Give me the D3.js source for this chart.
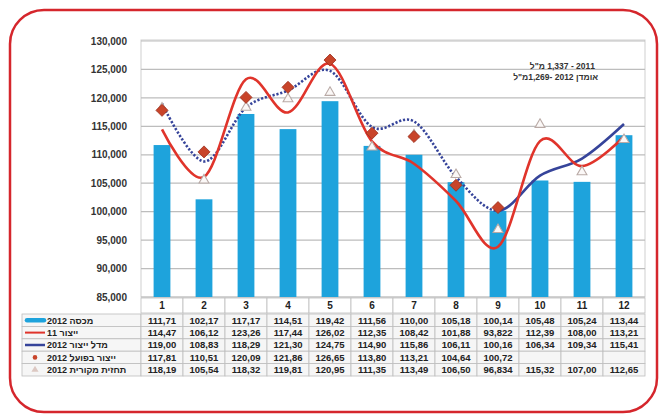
<!DOCTYPE html>
<html><head><meta charset="utf-8">
<script src="https://cdn.jsdelivr.net/npm/d3@7"></script>
<style>
html,body{margin:0;padding:0;background:#fff;}
svg{display:block;font-family:"Liberation Sans",Arial,sans-serif;}
</style></head>
<body><svg id="c" width="670" height="415"></svg>
<script>
// ---- data (values in thousands of litres) ----
const months = ["1","2","3","4","5","6","7","8","9","10","11","12"];
const yTicks = [85000,90000,95000,100000,105000,110000,115000,120000,125000,130000];
const quota2012 = [111.71,102.17,117.17,114.51,119.42,111.56,110.00,105.18,100.14,105.48,105.24,113.44];
const prod2011  = [114.47,106.12,123.26,117.44,126.02,112.35,108.42,101.88,93.822,112.39,108.00,113.21];
const model2012 = [119.00,108.83,118.29,121.30,124.75,114.90,115.86,106.11,100.16,106.34,109.34,115.41];
const actual2012 = [117.81,110.51,120.09,121.86,126.65,113.80,113.21,104.64,100.72];
const forecast2012 = [118.19,105.54,118.32,119.81,120.95,111.35,113.49,106.50,96.834,115.32,107.00,112.65];
const seriesNames = ["2012 מכסה","11 ייצור","2012 מדל ייצור","2012 ייצור בפועל","2012 תחזית מקורית"];
const noteLines = ["מ\"ל\u200E 1,337 - 2011","מ\"ל\u200E1,269- 2012 אומדן"];

const svg = d3.select("#c");
const C = {bar:"#1ea3dc", red:"#e0342b", blue:"#36449a", dia:"#c8442a", diaS:"#9e2f1d", tri:"#b9aaa6"};

// outer red rounded frame
svg.append("rect").attr("x",10).attr("y",10).attr("width",647).attr("height",402)
  .attr("rx",34).attr("fill","none").attr("stroke","#d5262c").attr("stroke-width",2.5);

const L=141, R=645, T=41, B=297;
const x = d3.scaleBand().domain(months).range([L,R]);
const y = d3.scaleLinear().domain([85000,130000]).range([B,T]);
const cx = d => x(d)+x.bandwidth()/2;

// plot frame
svg.append("rect").attr("x",L).attr("y",T-1).attr("width",R-L).attr("height",B-T+1)
  .attr("fill","#fff").attr("stroke","#cfcfcf");

// gridlines
svg.append("g").selectAll("line").data(yTicks).join("line")
  .attr("x1",L).attr("x2",R).attr("y1",d=>y(d)).attr("y2",d=>y(d))
  .attr("stroke","#bdbdbd").attr("stroke-width",1.2);

// y axis
const ya = svg.append("g").attr("transform",`translate(${L},0)`)
  .call(d3.axisLeft(y).tickValues(yTicks).tickFormat(d3.format(",")).tickSize(0).tickPadding(14));
ya.select(".domain").remove();
ya.selectAll("text").attr("font-size",10).attr("font-weight","bold").attr("fill","#333")
  .attr("font-family","'Liberation Sans',Arial,sans-serif");

// bars
const bw = x.bandwidth()*0.4;
svg.append("g").selectAll("rect").data(quota2012).join("rect")
  .attr("x",(d,i)=>cx(months[i])-bw/2).attr("width",bw)
  .attr("y",d=>y(d*1000)).attr("height",d=>B-y(d*1000)).attr("fill",C.bar);

// smooth lines
const line = d3.line().x(d=>cx(d.m)).y(d=>y(d.v*1000)).curve(d3.curveCatmullRom.alpha(0));
const pts = arr => arr.map((v,i)=>({m:months[i],v}));

const defs = svg.append("defs");
defs.append("clipPath").attr("id","cl").append("rect").attr("x",0).attr("y",0).attr("width",cx("9")).attr("height",415);
defs.append("clipPath").attr("id","cr").append("rect").attr("x",cx("9")).attr("y",0).attr("width",670).attr("height",415);

svg.append("path").attr("d",line(pts(model2012))).attr("fill","none")
  .attr("stroke",C.blue).attr("stroke-width",2.6).attr("stroke-dasharray","2.2,1.8").attr("clip-path","url(#cl)");
svg.append("path").attr("d",line(pts(model2012))).attr("fill","none")
  .attr("stroke",C.blue).attr("stroke-width",2.6).attr("clip-path","url(#cr)");

svg.append("path").attr("d",line(pts(prod2011))).attr("fill","none")
  .attr("stroke",C.red).attr("stroke-width",2.6);

// triangles
const triSym = d3.symbol().type(d3.symbolTriangle).size(42);
svg.append("g").selectAll("path").data(forecast2012).join("path")
  .attr("d",triSym).attr("transform",(d,i)=>`translate(${cx(months[i])},${y(d*1000)})`)
  .attr("fill","#fbf8f7").attr("stroke",C.tri).attr("stroke-width",1.1);

// diamonds
const diaSym = d3.symbol().type(d3.symbolSquare).size(72);
svg.append("g").selectAll("path").data(actual2012).join("path")
  .attr("d",diaSym).attr("transform",(d,i)=>`translate(${cx(months[i])},${y(d*1000)}) rotate(45)`)
  .attr("fill",C.dia).attr("stroke",C.diaS).attr("stroke-width",0.8);

// note
svg.append("g").selectAll("text").data(noteLines).join("text")
  .attr("x",(d,i)=>i?598:595).attr("y",(d,i)=>69+i*11).attr("text-anchor","end")
  .attr("font-size",8.5).attr("font-weight","bold").attr("fill","#333").text(d=>d);

// ---- data table ----
const tbl = svg.append("g");
const hT=298, hB=313, rowH=12.4, LL=22;
const fmt = v => v==null ? "" : v.toFixed(v<100?3:2).replace(".",",");
// header
tbl.selectAll("rect.h").data(months).join("rect").attr("class","h")
  .attr("x",d=>x(d)).attr("y",hT).attr("width",x.bandwidth()).attr("height",hB-hT)
  .attr("fill","#fff").attr("stroke","#bdbdbd").attr("stroke-width",0.8);
tbl.selectAll("text.h").data(months).join("text").attr("class","h")
  .attr("x",d=>cx(d)).attr("y",(hT+hB)/2+3.5).attr("text-anchor","middle")
  .attr("font-size",10).attr("font-weight","bold").attr("fill","#222").text(d=>d);

const rows = [quota2012, prod2011, model2012, actual2012, forecast2012];
rows.forEach((arr,r)=>{
  const top = hB+1+r*rowH;
  tbl.append("rect").attr("x",LL).attr("y",top).attr("width",L-LL).attr("height",rowH)
    .attr("fill","#f6f6f6").attr("stroke","#bdbdbd").attr("stroke-width",0.8);
  months.forEach((m,i)=>{
    tbl.append("rect").attr("x",x(m)).attr("y",top).attr("width",x.bandwidth()).attr("height",rowH)
      .attr("fill","#f6f6f6").attr("stroke","#bdbdbd").attr("stroke-width",0.8);
    tbl.append("text").attr("x",cx(m)).attr("y",top+rowH/2+3.4).attr("text-anchor","middle")
      .attr("font-size",9.5).attr("font-weight","bold").attr("fill","#222").text(fmt(arr[i]));
  });
  const my = top+rowH/2;
  if(r===0) tbl.append("line").attr("x1",27).attr("x2",44).attr("y1",my).attr("y2",my).attr("stroke",C.bar).attr("stroke-width",4.5).attr("stroke-linecap","round");
  if(r===1) tbl.append("line").attr("x1",25).attr("x2",45).attr("y1",my).attr("y2",my).attr("stroke",C.red).attr("stroke-width",2);
  if(r===2) tbl.append("line").attr("x1",25).attr("x2",45).attr("y1",my).attr("y2",my).attr("stroke",C.blue).attr("stroke-width",2.5);
  if(r===3) tbl.append("circle").attr("cx",35).attr("cy",my).attr("r",2.3).attr("fill",C.dia);
  if(r===4) tbl.append("path").attr("d",d3.symbol().type(d3.symbolTriangle).size(22)).attr("transform",`translate(35,${my})`).attr("fill","#dcc8c2");
  tbl.append("text").attr("x",47).attr("y",my+3.4).attr("font-size",9).attr("font-weight","bold")
    .attr("fill","#222").text(seriesNames[r]);
});
</script></body></html>
